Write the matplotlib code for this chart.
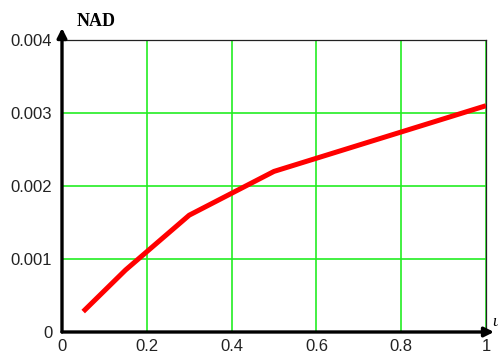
import matplotlib.pyplot as plt

# Values
x_vals = [0.05, 0.15, 0.3, 0.5, 1.0]
nad_vals = [0.00028, 0.00085, 0.0016, 0.0022, 0.0031]
x_ticks = [0, 0.2, 0.4, 0.6, 0.8, 1]
x_tick_labels = ["0", "0.2", "0.4", "0.6", "0.8", "1"]
y_ticks = [0, 0.001, 0.002, 0.003, 0.004]
y_tick_labels = ["0", "0.001", "0.002", "0.003", "0.004"]

W, H = 498, 356
fig = plt.figure(figsize=(W / 100, H / 100), dpi=100)
ax = fig.add_axes([62 / W, (H - 332) / H, (486 - 62) / W, (332 - 40) / H])

ax.plot(x_vals, nad_vals, color="#ff0000", lw=3.6, solid_capstyle="butt", zorder=3)

ax.set_xlim(0, 1)
ax.set_ylim(0, 0.004)
ax.set_xticks(x_ticks)
ax.set_xticklabels(x_tick_labels)
ax.set_yticks(y_ticks)
ax.set_yticklabels(y_tick_labels)
ax.tick_params(length=0, labelsize=12, colors="#222222")
ax.tick_params(axis="x", pad=5)
ax.tick_params(axis="y", pad=7)
for lab in ax.get_xticklabels() + ax.get_yticklabels():
    lab.set_family("Liberation Sans")

ax.grid(True, color="#22ee22", lw=1.2)

for side in ("top", "right"):
    ax.spines[side].set_linewidth(0.9)
    ax.spines[side].set_color("#222222")
for side in ("left", "bottom"):
    ax.spines[side].set_visible(False)

# thick axes with arrow heads
arrow = dict(arrowstyle="-|>", lw=2.4, color="black", mutation_scale=14, shrinkA=0, shrinkB=0)
ax.annotate("", xy=(0, 1 + 12 / 292), xytext=(0, 0), xycoords="axes fraction",
            arrowprops=arrow, annotation_clip=False)
ax.annotate("", xy=(1 + 8 / 424, 0), xytext=(0, 0), xycoords="axes fraction",
            arrowprops=arrow, annotation_clip=False)

fig.text(77 / W, (H - 26) / H, "NAD", family="Liberation Serif", weight="bold", fontsize=13)
fig.text(492 / W, (H - 326) / H, "u", family="Liberation Serif", style="italic", fontsize=12)

fig.savefig("out.png", dpi=100)
